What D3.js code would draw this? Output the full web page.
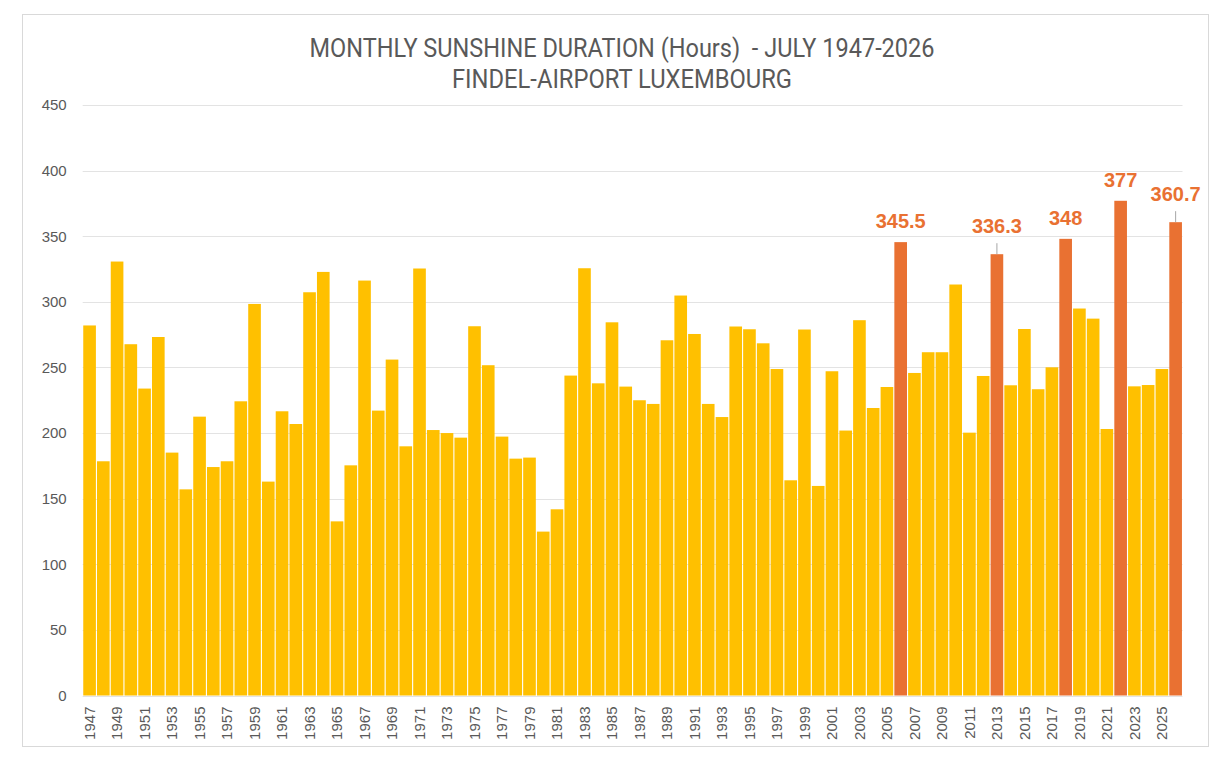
<!DOCTYPE html>
<html>
<head>
<meta charset="utf-8">
<script src="https://cdn.jsdelivr.net/npm/d3@7"></script>
<style>
  html, body { margin: 0; padding: 0; background: #fff; }
  svg { display: block; }
</style>
</head>
<body>
<svg id="chart" width="1224" height="764"></svg>
<script>
// ---- data ----
const years = d3.range(1947, 2027).map(String);
const hours = [
  282, 178.5, 330.7, 267.7, 233.9, 273.2, 185.1, 157.1, 212.5, 174.1,
  178.5, 224.2, 298.4, 163.0, 216.6, 206.9, 307.3, 322.8, 132.7, 175.4,
  316.2, 217.1, 256.0, 189.9, 325.4, 202.3, 200.0, 196.5, 281.4, 251.7,
  197.3, 180.5, 181.3, 124.9, 141.9, 243.8, 325.6, 237.9, 284.4, 235.4,
  225.0, 222.2, 270.7, 304.8, 275.5, 222.2, 212.2, 281.2, 279.1, 268.4,
  248.8, 164.0, 278.9, 159.7, 247.1, 201.9, 286.0, 219.1, 235.1, 345.5,
  245.8, 261.6, 261.6, 313.2, 200.3, 243.5, 336.3, 236.4, 279.3, 233.4,
  250.1, 348.0, 294.9, 287.2, 203.1, 377.0, 235.6, 236.6, 248.8, 360.7
];
const highlightYears = ["2006", "2013", "2018", "2022", "2026"];
const labelTexts = ["345.5", "336.3", "348", "377", "360.7"];
const leaderYears = ["2013", "2026"];
const yTicks = [0, 50, 100, 150, 200, 250, 300, 350, 400, 450];
const xTickYears = years.filter((y, i) => i % 2 === 0);
const titleLines = ["MONTHLY SUNSHINE DURATION (Hours)  - JULY 1947-2026", "FINDEL-AIRPORT LUXEMBOURG"];

// ---- layout ----
const svg = d3.select("#chart");
const plot = { left: 82.7, right: 1182.5, top: 105, bottom: 695.5 };
const gray = "#595959";
const gold = "#FFC000";
const orange = "#E97132";

svg.append("rect")
  .attr("x", 22.5).attr("y", 14.5).attr("width", 1186).attr("height", 732)
  .attr("fill", "#fff").attr("stroke", "#D9D9D9").attr("stroke-width", 1);

const x = d3.scaleBand().domain(years).range([plot.left, plot.right])
  .paddingInner(0.08).paddingOuter(0.04);
const y = d3.scaleLinear().domain([0, 450]).range([plot.bottom, plot.top]);

// gridlines
svg.append("g").selectAll("line").data(yTicks).join("line")
  .attr("x1", plot.left).attr("x2", plot.right)
  .attr("y1", d => Math.round(y(d)) + 0.5).attr("y2", d => Math.round(y(d)) + 0.5)
  .attr("stroke", "#E3E3E3").attr("stroke-width", 1);

// y axis labels
const yAxis = d3.axisLeft(y).tickValues(yTicks).tickSize(0).tickPadding(16);
const gy = svg.append("g").attr("transform", `translate(${plot.left},0)`).call(yAxis);
gy.select(".domain").remove();
gy.selectAll("text").attr("font-family", "Liberation Sans, Arial, sans-serif")
  .attr("font-size", 15).attr("fill", gray);

// bars
const data = years.map((yr, i) => ({ year: yr, value: hours[i] }));
svg.append("g").selectAll("rect").data(data).join("rect")
  .attr("x", d => x(d.year))
  .attr("y", d => y(d.value))
  .attr("width", x.bandwidth())
  .attr("height", d => y(0) - y(d.value))
  .attr("fill", d => highlightYears.includes(d.year) ? orange : gold);

// x axis labels
const xAxis = d3.axisBottom(x).tickValues(xTickYears).tickSize(0).tickPadding(0);
const gx = svg.append("g").attr("transform", `translate(0,${plot.bottom})`).call(xAxis);
gx.select(".domain").remove();
gx.selectAll("text")
  .attr("font-family", "Liberation Sans, Arial, sans-serif")
  .attr("font-size", 15).attr("fill", gray)
  .attr("text-anchor", "end")
  .attr("transform", "rotate(-90)")
  .attr("x", -11).attr("y", 0).attr("dy", "0.35em");

// data labels
const labels = highlightYears.map((yr, i) => ({ year: yr, text: labelTexts[i], value: hours[years.indexOf(yr)] }));
const lg = svg.append("g");
labels.forEach(l => {
  const cx = x(l.year) + x.bandwidth() / 2;
  const top = y(l.value);
  const lead = leaderYears.includes(l.year);
  const base = lead ? top - 21 : top - 14;
  if (lead) {
    lg.append("line").attr("x1", cx).attr("x2", cx)
      .attr("y1", base + 10).attr("y2", top)
      .attr("stroke", "#A6A6A6").attr("stroke-width", 1);
  }
  lg.append("text").attr("x", cx).attr("y", base)
    .attr("text-anchor", "middle")
    .attr("font-family", "Liberation Sans, Arial, sans-serif")
    .attr("font-weight", "bold").attr("font-size", 20)
    .attr("fill", orange).text(l.text);
});

// title (condensed look: fixed width, glyphs squeezed)
const tg = svg.append("g");
const targetWidths = [625, 340];
const baselines = [57, 88];
titleLines.forEach((t, i) => {
  tg.append("text").attr("x", 622).attr("y", baselines[i])
    .attr("text-anchor", "middle")
    .attr("font-family", "Roboto, Liberation Sans, Arial, sans-serif")
    .attr("font-size", 26).attr("fill", gray)
    .attr("xml:space", "preserve")
    .style("white-space", "pre")
    .attr("textLength", targetWidths[i])
    .attr("lengthAdjust", "spacingAndGlyphs")
    .text(t);
});
</script>
</body>
</html>
